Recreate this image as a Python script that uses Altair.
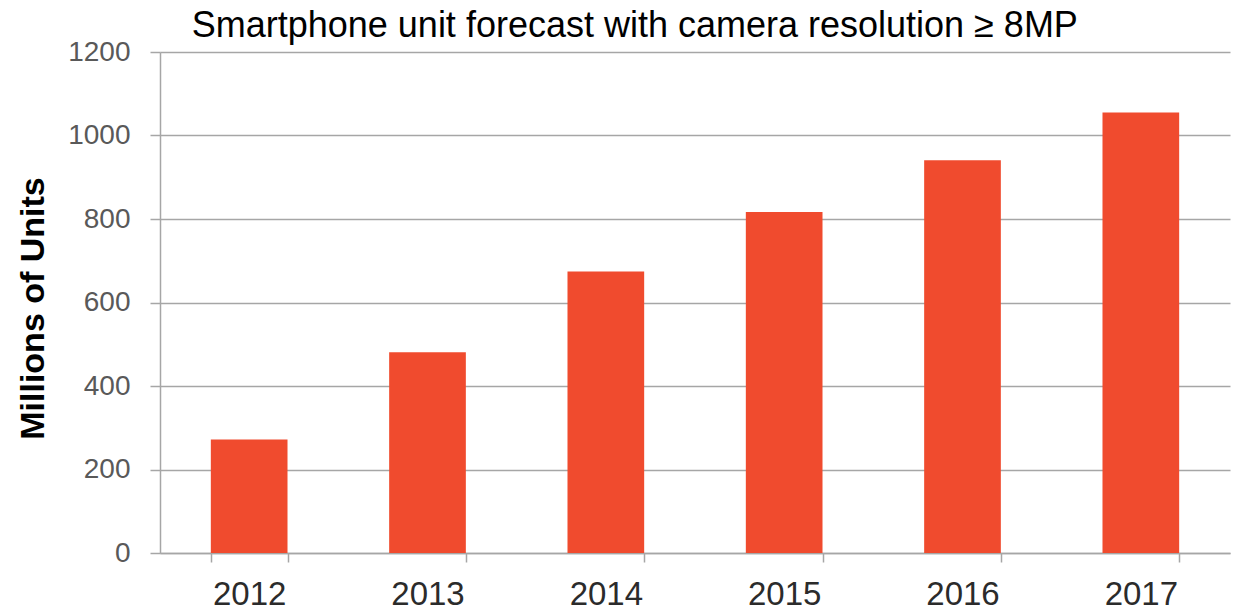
import altair as alt
import pandas as pd

years = ["2012", "2013", "2014", "2015", "2016", "2017"]
units = [272, 481, 674, 817, 941, 1055]

df = pd.DataFrame({"year": years, "units": units})

chart = alt.Chart(df).mark_bar(color="#F04B2E").encode(
    x=alt.X(
        "year:N",
        sort=years,
        title=None,
        scale=alt.Scale(paddingInner=0.57, paddingOuter=0.285),
        axis=alt.Axis(
            labelAngle=0,
            labelFont="Liberation Sans",
            labelFontSize=33,
            labelColor="#2b2b2b",
            labelPadding=16,
            tickBand="extent",
            tickSize=9,
            tickColor="#a6a6a6",
            domainColor="#a6a6a6",
            domainWidth=1.5,
            tickWidth=1.5,
            grid=False,
        ),
    ),
    y=alt.Y(
        "units:Q",
        title="Millions of Units",
        scale=alt.Scale(domain=[0, 1200], nice=False),
        axis=alt.Axis(
            values=[0, 200, 400, 600, 800, 1000, 1200],
            format="d",
            labelFont="Liberation Sans",
            labelFontSize=28,
            labelColor="#595959",
            labelPadding=20,
            tickSize=10,
            tickColor="#a6a6a6",
            tickWidth=1.5,
            domainColor="#a6a6a6",
            domainWidth=1.5,
            gridColor="#a6a6a6",
            gridWidth=1.5,
            titleFont="Liberation Sans",
            titleFontSize=34,
            titleFontWeight="bold",
            titleColor="#000000",
            titlePadding=17,
            titleY=256,
        ),
    ),
).properties(
    width=1070,
    height=501,
    title=alt.TitleParams(
        "Smartphone unit forecast with camera resolution \u2265 8MP",
        font="Liberation Sans",
        fontSize=36,
        fontWeight="normal",
        color="#000000",
        anchor="start",
        dx=175,
        offset=14,
        dy=21,
    ),
    autosize=alt.AutoSizeParams(type="none"),
    padding={"left": 152, "top": 44, "right": 5, "bottom": 58},
).configure_view(stroke=None)

chart.save("out.html", embed_options={"renderer": "svg", "actions": False})
